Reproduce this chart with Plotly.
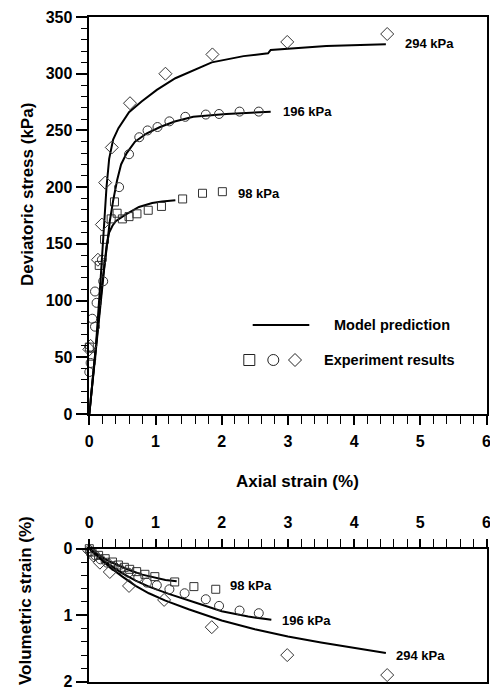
import plotly.graph_objects as go

W, H = 490, 691
OFF = 0  # page body margin removed via post_script
FONT = "Liberation Sans, Arial"

# ---------------- data: deviatoric stress (top) ----------------
exp98_eps = [0.0, 0.036, 0.15, 0.23, 0.33, 0.38, 0.42, 0.5, 0.6, 0.72, 0.89, 1.09, 1.41, 1.71, 2.01]
exp98_q = [59, 51, 131, 154, 172, 187, 177, 172, 174, 176.5, 179.6, 183, 189.6, 194.6, 196]

exp196_eps = [0.0, 0.02, 0.045, 0.086, 0.086, 0.11, 0.19, 0.21, 0.45, 0.6, 0.755, 0.88, 1.03, 1.21, 1.45, 1.76, 1.96, 2.27, 2.56]
exp196_q = [37, 45, 84, 77, 108, 98, 136, 117, 200, 229, 244, 250, 253, 258, 262, 264, 264.5, 266.6, 266.6]

exp294_eps = [0.0, 0.02, 0.13, 0.19, 0.24, 0.34, 0.615, 1.15, 1.86, 2.99, 4.5]
exp294_q = [57, 60, 136, 167, 204, 235, 274, 300, 317, 328, 335]

mod98_eps = [0, 0.1, 0.2, 0.26, 0.3, 0.35, 0.4, 0.54, 0.75, 0.95, 1.1, 1.3]
mod98_q = [0, 58, 117, 148, 160, 166, 170, 175.5, 182.5, 186, 187.3, 188.4]

mod196_eps = [0, 0.1, 0.2, 0.26, 0.31, 0.36, 0.42, 0.48, 0.565, 0.69, 0.87, 1.07, 1.29, 1.57, 2.07, 2.74]
mod196_q = [0, 58, 118, 145, 170, 188, 206, 220, 230, 240, 247.5, 253, 257.8, 262, 264.5, 266.5]

mod294_eps = [0, 0.1, 0.17, 0.22, 0.26, 0.3, 0.36, 0.44, 0.6, 0.79, 1.02, 1.3, 1.57, 1.85, 2.33, 2.7, 2.74, 3.58, 4.48]
mod294_q = [0, 60, 118, 165, 200, 225, 242, 252, 266, 275.5, 285.7, 296, 303, 310, 315.5, 318, 321, 324.5, 326]

# ---------------- data: volumetric strain (bottom) ----------------
vexp98_eps = [0.0, 0.04, 0.14, 0.24, 0.35, 0.44, 0.53, 0.61, 0.715, 0.84, 0.99, 1.29, 1.58, 1.91]
vexp98_v = [0.0, 0.05, 0.10, 0.15, 0.20, 0.245, 0.28, 0.31, 0.345, 0.385, 0.42, 0.50, 0.57, 0.61]

vexp196_eps = [0.02, 0.09, 0.17, 0.27, 0.37, 0.47, 0.59, 0.74, 0.87, 1.02, 1.21, 1.44, 1.76, 1.96, 2.27, 2.56]
vexp196_v = [0.04, 0.10, 0.16, 0.21, 0.26, 0.31, 0.36, 0.43, 0.51, 0.55, 0.61, 0.67, 0.76, 0.86, 0.93, 0.97]

vexp294_eps = [0.0, 0.06, 0.16, 0.31, 0.6, 1.13, 1.85, 2.99, 4.5]
vexp294_v = [0.03, 0.10, 0.21, 0.35, 0.56, 0.77, 1.18, 1.60, 1.90]

vmod98_eps = [0, 0.1, 0.2, 0.3, 0.45, 0.6, 0.8, 1.0, 1.15, 1.32]
vmod98_v = [0, 0.07, 0.13, 0.19, 0.26, 0.32, 0.39, 0.44, 0.47, 0.49]

vmod196_eps = [0, 0.1, 0.2, 0.3, 0.5, 0.7, 0.9, 1.2, 1.6, 2.0, 2.4, 2.75]
vmod196_v = [0, 0.08, 0.16, 0.24, 0.37, 0.48, 0.57, 0.68, 0.81, 0.94, 1.02, 1.07]

vmod294_eps = [0, 0.1, 0.2, 0.3, 0.5, 0.7, 0.9, 1.15, 1.5, 2.0, 2.5, 3.0, 3.5, 4.0, 4.48]
vmod294_v = [0, 0.09, 0.18, 0.27, 0.42, 0.56, 0.67, 0.78, 0.91, 1.08, 1.21, 1.32, 1.41, 1.49, 1.57]

pressure_labels = ["98 kPa", "196 kPa", "294 kPa"]
x_ticks = [0, 1, 2, 3, 4, 5, 6]


def sx(px):
    return (px - OFF) / W


def sy(py):
    return (H - (py - OFF)) / H


# ---------------- figure ----------------
fig = go.Figure()
LINE = dict(color="black", width=2)


def add_set(xa, ya, ex, ey, mx, my, symbol, size):
    fig.add_trace(go.Scatter(x=mx, y=my, mode="lines", line=LINE, xaxis=xa, yaxis=ya,
                             showlegend=False, cliponaxis=False))
    fig.add_trace(go.Scatter(x=ex, y=ey, mode="markers", xaxis=xa, yaxis=ya, showlegend=False,
                             cliponaxis=False,
                             marker=dict(symbol=symbol, size=size, color="#333",
                                         line=dict(color="#333", width=1))))


add_set("x", "y", exp98_eps, exp98_q, mod98_eps, mod98_q, "square-open", 8)
add_set("x", "y", exp196_eps, exp196_q, mod196_eps, mod196_q, "circle-open", 9)
add_set("x", "y", exp294_eps, exp294_q, mod294_eps, mod294_q, "diamond-open", 10)
add_set("x2", "y2", vexp98_eps, vexp98_v, vmod98_eps, vmod98_v, "square-open", 8)
add_set("x2", "y2", vexp196_eps, vexp196_v, vmod196_eps, vmod196_v, "circle-open", 9)
add_set("x2", "y2", vexp294_eps, vexp294_v, vmod294_eps, vmod294_v, "diamond-open", 10)

XD = [sx(89.3), sx(486.7)]
TICKFONT = dict(family=FONT, size=16, color="black", weight="bold")
common = dict(showline=True, linecolor="black", linewidth=1.5, mirror=True, showgrid=False,
              zeroline=False, ticks="outside", tickcolor="black", tickwidth=1.5,
              tickfont=TICKFONT, automargin=False)
xcommon = dict(domain=XD, range=[0, 6.003], tickmode="array", tickvals=x_ticks,
               ticktext=[str(v) for v in x_ticks], ticklabeloverflow="allow",
               minor=dict(ticks="outside", tickmode="linear", tick0=0, dtick=0.2, ticklen=8,
                          tickwidth=1, tickcolor="black"))

fig.update_layout(
    width=W, height=H, margin=dict(l=0, r=0, t=0, b=0, autoexpand=False),
    paper_bgcolor="white", plot_bgcolor="white",
    xaxis=dict(ticklen=9, anchor="y", ticklabelstandoff=3, **xcommon, **common),
    yaxis=dict(domain=[sy(414), sy(17)], range=[0, 350], dtick=50, tick0=0,
               ticklen=12, anchor="x", ticklabelstandoff=0,
               minor=dict(ticks="outside", dtick=10, ticklen=7, tickwidth=1, tickcolor="black"),
               **common),
    xaxis2=dict(ticklen=8, anchor="y2", side="top", ticklabelstandoff=5, **xcommon, **common),
    yaxis2=dict(domain=[sy(681.7), sy(548.7)], range=[2, 0], dtick=1, tick0=0,
                ticklen=12, anchor="x2", ticklabelstandoff=0,
                minor=dict(ticks="outside", dtick=0.2, ticklen=7, tickwidth=1, tickcolor="black"),
                **common),
)

LBL = dict(family=FONT, size=13, color="black", weight="bold")
ann = []
for txt, x, y in zip(pressure_labels, [2.22, 2.9, 4.74], [194, 267, 327]):
    ann.append(dict(x=x, y=y, xref="x", yref="y", text=txt, showarrow=False,
                    xanchor="left", yanchor="middle", font=LBL))
for txt, x, y in zip(pressure_labels, [2.1, 2.88, 4.61], [0.555, 1.08, 1.6]):
    ann.append(dict(x=x, y=y, xref="x2", yref="y2", text=txt, showarrow=False,
                    xanchor="left", yanchor="middle", font=LBL))

TTL = dict(family=FONT, size=17, color="black", weight="bold")
ann.append(dict(x=sx(297.5), y=sy(481), xref="paper", yref="paper", text="Axial strain (%)",
                showarrow=False, xanchor="center", yanchor="middle", font=TTL))
ann.append(dict(x=sx(27), y=sy(195), xref="paper", yref="paper",
                text="Deviatoric stress (kPa)", textangle=-90,
                showarrow=False, xanchor="center", yanchor="middle", font=TTL))
ann.append(dict(x=sx(25), y=sy(601), xref="paper", yref="paper",
                text="Volumetric strain (%)", textangle=-90,
                showarrow=False, xanchor="center", yanchor="middle", font=TTL))

LEG = dict(family=FONT, size=14.5, color="black", weight="bold")
ann.append(dict(x=sx(331.7), y=sy(325), xref="paper", yref="paper", text="Model prediction",
                showarrow=False, xanchor="left", yanchor="middle", font=LEG))
ann.append(dict(x=sx(321.7), y=sy(360), xref="paper", yref="paper", text="Experiment results",
                showarrow=False, xanchor="left", yanchor="middle", font=LEG))
fig.update_layout(annotations=ann)

# legend glyphs (paper-anchored, pixel-sized)
ly1 = sy(325)
ly2 = sy(360)
shapes = [
    dict(type="line", xref="paper", yref="paper", x0=sx(252.7), x1=sx(309.3), y0=ly1, y1=ly1,
         line=dict(color="black", width=2)),
    dict(type="rect", xref="paper", yref="paper", xsizemode="pixel", ysizemode="pixel",
         xanchor=sx(249.3), yanchor=ly2, x0=-5.5, x1=5.5, y0=-5.5, y1=5.5,
         line=dict(color="#222", width=1)),
    dict(type="circle", xref="paper", yref="paper", xsizemode="pixel", ysizemode="pixel",
         xanchor=sx(273.3), yanchor=ly2, x0=-5.5, x1=5.5, y0=-5.5, y1=5.5,
         line=dict(color="#222", width=1)),
    dict(type="path", xref="paper", yref="paper", xsizemode="pixel", ysizemode="pixel",
         xanchor=sx(295), yanchor=ly2, path="M -6.5 0 L 0 6.5 L 6.5 0 L 0 -6.5 Z",
         line=dict(color="#222", width=1)),
]
fig.update_layout(shapes=shapes)

fig.write_html(
    "out.html",
    config={"displayModeBar": False},
    post_script="document.body.style.margin='0';document.body.style.overflow='hidden';",
)
